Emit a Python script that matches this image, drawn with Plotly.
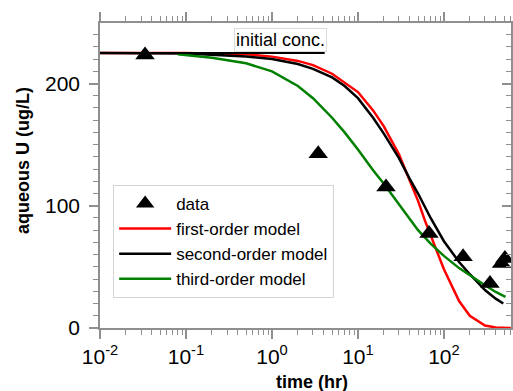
import plotly.graph_objects as go

# ---- data ----
data_t = [0.0334, 3.45, 21.2, 67, 167, 343, 468, 512]
data_c = [223.3, 142.6, 115.3, 77.3, 58.2, 36.5, 52.8, 56.9]

first_t = [0.01, 0.1, 0.5, 1, 2, 3, 5, 7, 10, 15, 20, 30, 40, 50, 60, 70, 80, 100, 150, 200, 300, 400, 600]
first_c = [225, 225, 224, 222, 218.5, 215, 208, 201, 193, 178, 165, 142, 120, 104, 88, 76, 65, 48, 22, 10, 2, 0.5, 0]

second_t = [0.01, 0.1, 0.5, 1, 2, 3, 5, 7, 10, 15, 20, 30, 40, 50, 70, 100, 150, 200, 300, 400, 490]
second_c = [225, 224.5, 222, 220, 216, 212, 205, 198, 188, 172, 159, 139, 122, 110, 90, 71, 54, 44, 31, 24, 20]

third_t = [0.08, 0.2, 0.5, 1, 2, 3, 5, 7, 10, 15, 20, 30, 50, 70, 100, 150, 200, 300, 400, 520]
third_c = [224, 221, 216.5, 210, 198, 188, 172, 160, 146, 129, 118, 101, 80, 69, 59, 49, 43, 35, 29.5, 25.5]

init_t = [0.01, 4.1]
init_c = [225, 225]

x_tickvals = [0.01, 0.1, 1, 10, 100]
x_ticktext = ["10<sup>-2</sup>", "10<sup>-1</sup>", "10<sup>0</sup>", "10<sup>1</sup>", "10<sup>2</sup>"]
y_tickvals = [0, 100, 200]

FONT = "Liberation Sans, Arial, Helvetica, sans-serif"
AX = "#8f8f8f"
X_RANGE = [-2, 2.78]
Y_RANGE = [0, 249.5]

fig = go.Figure()
fig.add_trace(go.Scatter(x=first_t, y=first_c, mode="lines", name="first-order model",
                         line=dict(color="#ff0000", width=2.5)))
fig.add_trace(go.Scatter(x=second_t, y=second_c, mode="lines", name="second-order model",
                         line=dict(color="black", width=2.5)))
fig.add_trace(go.Scatter(x=third_t, y=third_c, mode="lines", name="third-order model",
                         line=dict(color="#008000", width=2.5)))
# drawn on the mirrored (top/right) axes, same scales, so those axes get rendered
fig.add_trace(go.Scatter(x=init_t, y=init_c, mode="lines", line=dict(color="black", width=2),
                         showlegend=False, hoverinfo="skip", xaxis="x2", yaxis="y2"))
fig.add_trace(go.Scatter(x=data_t, y=data_c, mode="markers", name="data", legendrank=1,
                         marker=dict(symbol="triangle-up", size=17, color="black"),
                         xaxis="x2", yaxis="y2"))

minor_x_out = dict(dtick="D1", ticks="outside", ticklen=5, tickwidth=1.2, tickcolor=AX, showgrid=False)
minor_y_out = dict(dtick=10, ticks="outside", ticklen=5, tickwidth=1.2, tickcolor=AX, showgrid=False)
minor_y_in = dict(dtick=10, ticks="inside", ticklen=5, tickwidth=1.2, tickcolor=AX, showgrid=False)

fig.update_layout(
    width=513, height=391,
    margin=dict(l=100, r=2, t=23, b=63),
    paper_bgcolor="white", plot_bgcolor="white",
    font=dict(family=FONT, color="black", size=18),
    legend=dict(x=0.032, y=0.469, xanchor="left", yanchor="top",
                bgcolor="white", bordercolor="#d4d4d4", borderwidth=1,
                font=dict(size=17, family=FONT), itemwidth=52, tracegroupgap=0),
    xaxis=dict(type="log", range=X_RANGE, tickvals=x_tickvals, ticktext=x_ticktext,
               ticks="outside", ticklen=9, tickwidth=1.5, tickcolor=AX,
               showline=True, linecolor=AX, linewidth=1.5,
               showgrid=False, zeroline=False, tickfont=dict(size=21),
               minor=minor_x_out),
    xaxis2=dict(type="log", range=X_RANGE, overlaying="x", side="top", anchor="y2",
                tickvals=x_tickvals,
                ticks="outside", ticklen=9, tickwidth=1.5, tickcolor=AX,
                showline=True, linecolor=AX, linewidth=1.5, showticklabels=False,
                showgrid=False, zeroline=False, minor=minor_x_out),
    yaxis=dict(range=Y_RANGE, tickvals=y_tickvals,
               ticks="outside", ticklen=9, tickwidth=1.5, tickcolor=AX,
               showline=True, linecolor=AX, linewidth=1.5,
               showgrid=False, zeroline=False, tickfont=dict(size=21), ticklabelstandoff=5,
               minor=minor_y_out),
    yaxis2=dict(range=Y_RANGE, overlaying="y", side="right", anchor="x2", tickvals=y_tickvals,
                ticks="inside", ticklen=9, tickwidth=1.5, tickcolor=AX,
                showline=True, linecolor=AX, linewidth=1.5, showticklabels=False,
                showgrid=False, zeroline=False, minor=minor_y_in),
    annotations=[
        dict(text="initial conc.", xref="paper", yref="paper", x=0.44, y=0.944,
             xanchor="center", yanchor="middle", showarrow=False,
             font=dict(size=18, family=FONT), bgcolor="white", bordercolor="#dcdcdc",
             borderwidth=1, borderpad=1),
        dict(text="<b>aqueous U (ug/L)</b>", xref="paper", yref="paper", x=-0.187, y=0.548,
             xanchor="center", yanchor="middle", showarrow=False, textangle=-90,
             font=dict(size=18, family=FONT)),
        dict(text="<b>time (hr)</b>", xref="paper", yref="paper", x=0.516, y=-0.177,
             xanchor="center", yanchor="middle", showarrow=False,
             font=dict(size=18, family=FONT)),
    ],
)

fig.write_html("out.html")
